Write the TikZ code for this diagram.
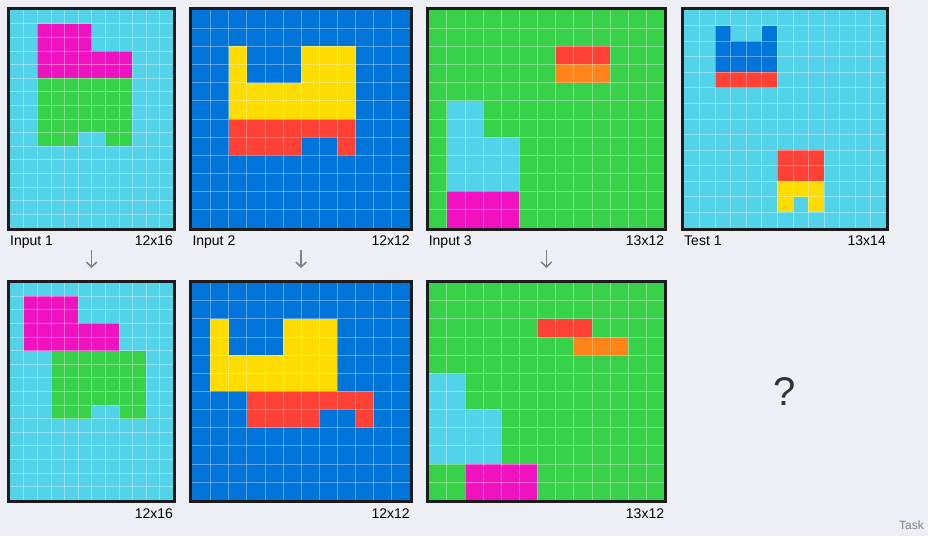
\documentclass[tikz,border=0pt]{standalone}
\usepackage{fontspec}
\setmainfont{Liberation Sans}
\usetikzlibrary{arrows.meta}

\definecolor{bgc}{RGB}{238,238,245}
\definecolor{arccyan}{RGB}{82,211,234}
\definecolor{arcgreen}{RGB}{56,210,74}
\definecolor{arcblue}{RGB}{0,116,217}
\definecolor{arcred}{RGB}{255,65,54}
\definecolor{arcyellow}{RGB}{255,220,0}
\definecolor{arcmag}{RGB}{240,18,190}
\definecolor{arcorange}{RGB}{255,133,27}
\definecolor{framec}{RGB}{28,28,28}
\definecolor{flowc}{RGB}{128,128,128}

\begin{document}
\begin{tikzpicture}[
    x=1pt, y=-1pt,
    cellline/.style={white, opacity=0.35, line width=0.6pt},
    frame/.style={draw=framec, line width=3pt},
    lbl/.style={inner sep=0pt, font=\fontsize{14}{16}\selectfont, text=black},
    flow/.style={-{Straight Barb[length=5pt, width=10.5pt]}, line width=1.5pt, draw=flowc, shorten <=22.4pt, shorten >=14.5pt}
]

\fill[bgc] (0,0) rectangle (928,536);
\useasboundingbox (0,0) rectangle (928,536);

% Grille Input 1
\begin{scope}[shift={(10,10)}, x=13.6pt, y=-13.6pt]
  \fill[arccyan] (0,0) rectangle (12,16);
  \fill[arcmag] (2,1) rectangle (6,3);
  \fill[arcmag] (2,3) rectangle (9,5);
  \fill[arcgreen] (2,5) rectangle (9,9);
  \fill[arcgreen] (2,9) rectangle (5,10);
  \fill[arcgreen] (7,9) rectangle (9,10);
  \foreach \i in {1,...,11} \draw[cellline] (\i,0) -- (\i,16);
  \foreach \j in {1,...,15} \draw[cellline] (0,\j) -- (12,\j);
  \draw[frame] ([shift={(-1.5pt,1.5pt)}]0,0) rectangle ([shift={(1.5pt,-1.5pt)}]12,16);
  \coordinate (in1) at (6,16);
\end{scope}
\node[lbl, anchor=base west] (in1name) at (10,245.4) {Input 1};
\node[lbl, anchor=base east] (in1size) at (173.2,245.4) {12x16};

% Grille Input 2
\begin{scope}[shift={(192.3,10)}, x=18.133pt, y=-18.133pt]
  \fill[arcblue] (0,0) rectangle (12,12);
  \fill[arcyellow] (2,2) rectangle (3,4);
  \fill[arcyellow] (6,2) rectangle (9,4);
  \fill[arcyellow] (2,4) rectangle (9,6);
  \fill[arcred] (2,6) rectangle (9,7);
  \fill[arcred] (2,7) rectangle (6,8);
  \fill[arcred] (8,7) rectangle (9,8);
  \foreach \i in {1,...,11} \draw[cellline] (\i,0) -- (\i,12);
  \foreach \j in {1,...,11} \draw[cellline] (0,\j) -- (12,\j);
  \draw[frame] ([shift={(-1.5pt,1.5pt)}]0,0) rectangle ([shift={(1.5pt,-1.5pt)}]12,12);
  \coordinate (in2) at (6,12);
\end{scope}
\node[lbl, anchor=base west] (in2name) at (192.3,245.4) {Input 2};
\node[lbl, anchor=base east] (in2size) at (409.9,245.4) {12x12};

% Grille Input 3
\begin{scope}[shift={(428.6,10)}, x=18.133pt, y=-18.133pt]
  \fill[arcgreen] (0,0) rectangle (13,12);
  \fill[arcred] (7,2) rectangle (10,3);
  \fill[arcorange] (7,3) rectangle (10,4);
  \fill[arccyan] (1,5) rectangle (3,7);
  \fill[arccyan] (1,7) rectangle (5,10);
  \fill[arcmag] (1,10) rectangle (5,12);
  \foreach \i in {1,...,12} \draw[cellline] (\i,0) -- (\i,12);
  \foreach \j in {1,...,11} \draw[cellline] (0,\j) -- (13,\j);
  \draw[frame] ([shift={(-1.5pt,1.5pt)}]0,0) rectangle ([shift={(1.5pt,-1.5pt)}]13,12);
  \coordinate (in3) at (6.5,12);
\end{scope}
\node[lbl, anchor=base west] (in3name) at (428.6,245.4) {Input 3};
\node[lbl, anchor=base east] (in3size) at (664.3,245.4) {13x12};

% Grille Test 1
\begin{scope}[shift={(684,10)}, x=15.543pt, y=-15.543pt]
  \fill[arccyan] (0,0) rectangle (13,14);
  \fill[arcblue] (2,1) rectangle (3,2);
  \fill[arcblue] (5,1) rectangle (6,2);
  \fill[arcblue] (2,2) rectangle (6,4);
  \fill[arcred] (2,4) rectangle (6,5);
  \fill[arcred] (6,9) rectangle (9,11);
  \fill[arcyellow] (6,11) rectangle (9,12);
  \fill[arcyellow] (6,12) rectangle (7,13);
  \fill[arcyellow] (8,12) rectangle (9,13);
  \foreach \i in {1,...,12} \draw[cellline] (\i,0) -- (\i,14);
  \foreach \j in {1,...,13} \draw[cellline] (0,\j) -- (13,\j);
  \draw[frame] ([shift={(-1.5pt,1.5pt)}]0,0) rectangle ([shift={(1.5pt,-1.5pt)}]13,14);
\end{scope}
\node[lbl, anchor=base west] (testname) at (684,245.4) {Test 1};
\node[lbl, anchor=base east] (testsize) at (886,245.4) {13x14};

% Grille Output 1
\begin{scope}[shift={(10,282.5)}, x=13.6pt, y=-13.6pt]
  \fill[arccyan] (0,0) rectangle (12,16);
  \fill[arcmag] (1,1) rectangle (5,3);
  \fill[arcmag] (1,3) rectangle (8,5);
  \fill[arcgreen] (3,5) rectangle (10,9);
  \fill[arcgreen] (3,9) rectangle (6,10);
  \fill[arcgreen] (8,9) rectangle (10,10);
  \foreach \i in {1,...,11} \draw[cellline] (\i,0) -- (\i,16);
  \foreach \j in {1,...,15} \draw[cellline] (0,\j) -- (12,\j);
  \draw[frame] ([shift={(-1.5pt,1.5pt)}]0,0) rectangle ([shift={(1.5pt,-1.5pt)}]12,16);
  \coordinate (out1) at (6,0);
\end{scope}
\node[lbl, anchor=base east] (out1size) at (173.2,518) {12x16};

% Grille Output 2
\begin{scope}[shift={(192.3,282.5)}, x=18.133pt, y=-18.133pt]
  \fill[arcblue] (0,0) rectangle (12,12);
  \fill[arcyellow] (1,2) rectangle (2,4);
  \fill[arcyellow] (5,2) rectangle (8,4);
  \fill[arcyellow] (1,4) rectangle (8,6);
  \fill[arcred] (3,6) rectangle (10,7);
  \fill[arcred] (3,7) rectangle (7,8);
  \fill[arcred] (9,7) rectangle (10,8);
  \foreach \i in {1,...,11} \draw[cellline] (\i,0) -- (\i,12);
  \foreach \j in {1,...,11} \draw[cellline] (0,\j) -- (12,\j);
  \draw[frame] ([shift={(-1.5pt,1.5pt)}]0,0) rectangle ([shift={(1.5pt,-1.5pt)}]12,12);
  \coordinate (out2) at (6,0);
\end{scope}
\node[lbl, anchor=base east] (out2size) at (409.9,518) {12x12};

% Grille Output 3
\begin{scope}[shift={(428.6,282.5)}, x=18.133pt, y=-18.133pt]
  \fill[arcgreen] (0,0) rectangle (13,12);
  \fill[arcred] (6,2) rectangle (9,3);
  \fill[arcorange] (8,3) rectangle (11,4);
  \fill[arccyan] (0,5) rectangle (2,7);
  \fill[arccyan] (0,7) rectangle (4,10);
  \fill[arcmag] (2,10) rectangle (6,12);
  \foreach \i in {1,...,12} \draw[cellline] (\i,0) -- (\i,12);
  \foreach \j in {1,...,11} \draw[cellline] (0,\j) -- (13,\j);
  \draw[frame] ([shift={(-1.5pt,1.5pt)}]0,0) rectangle ([shift={(1.5pt,-1.5pt)}]13,12);
  \coordinate (out3) at (6.5,0);
\end{scope}
\node[lbl, anchor=base east] (out3size) at (664.3,518) {13x12};

% Fleches
\draw[flow] (in1) -- (out1);
\draw[flow] (in2) -- (out2);
\draw[flow] (in3) -- (out3);

% Sortie inconnue
\node[inner sep=0pt, font=\fontsize{40}{40}\selectfont, text={rgb,255:red,51;green,51;blue,51}] (unknown) at (785,391.3) {?};
\node[lbl, anchor=base east, font=\fontsize{12}{14}\selectfont, text=gray] (task) at (924,529.5) {Task};

\end{tikzpicture}
\end{document}
